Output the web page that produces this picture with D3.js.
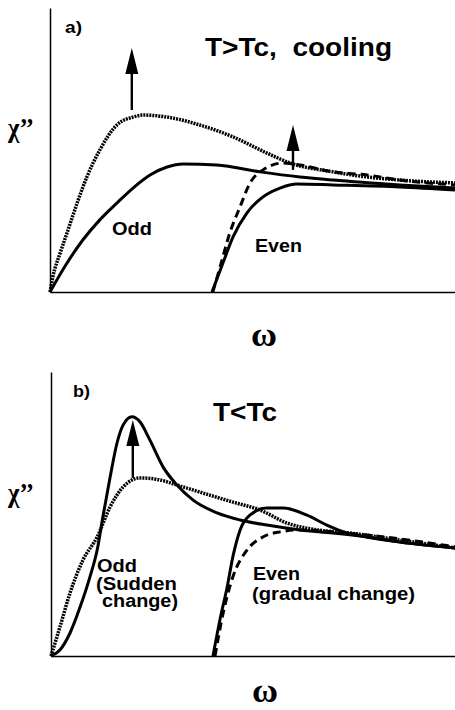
<!DOCTYPE html>
<html>
<head>
<meta charset="utf-8">
<script src="https://d3js.org/d3.v7.min.js"></script>
<style>
  body { margin: 0; background: #fff; }
  text { font-family: "Liberation Sans", Arial, sans-serif; font-weight: bold; fill: #000; white-space: pre; }
  .sym { font-family: "Liberation Serif", "DejaVu Serif", serif; }
</style>
</head>
<body>
<script>
// ---- data (omega, chi'' in arbitrary units 0..10) ----
// panel a) T>Tc, cooling
const aOddDotW  = [0, 0.07, 0.25, 0.42, 0.67, 0.91, 1.23, 1.65, 2.05, 2.30, 2.89, 3.70, 4.52, 5.36, 5.93, 6.99, 7.83, 8.64, 10];
const aOddDotC  = [0, 0.53, 1.37, 2.08, 3.13, 4.05, 5.00, 5.88, 6.16, 6.23, 6.16, 5.88, 5.46, 4.89, 4.54, 4.23, 4.05, 3.94, 3.84];
const aOddW     = [0, 0.42, 0.81, 1.23, 1.65, 2.05, 2.47, 2.89, 3.28, 4.12, 5.19, 6.17, 6.99, 8.64, 10];
const aOddC     = [0, 1.02, 1.83, 2.54, 3.13, 3.66, 4.12, 4.40, 4.51, 4.47, 4.23, 4.05, 3.94, 3.77, 3.66];
const aEvenDashW = [4.02, 4.20, 4.44, 4.69, 4.94, 5.26, 5.75, 6.17, 6.99, 7.83, 8.64, 10];
const aEvenDashC = [0, 0.88, 2.08, 2.99, 3.84, 4.30, 4.54, 4.47, 4.23, 4.12, 3.94, 3.77];
const aEvenW    = [4.00, 4.27, 4.52, 4.86, 5.26, 5.68, 6.10, 6.99, 8.64, 10];
const aEvenC    = [0, 1.02, 1.94, 2.78, 3.35, 3.66, 3.80, 3.77, 3.70, 3.59];
const aArrows   = [{w: 2.02, from: 6.41, to: 8.59}, {w: 6.0, from: 4.30, to: 5.88}];

// panel b) T<Tc
const bOddW     = [0, 0.22, 0.47, 0.72, 0.96, 1.14, 1.28, 1.46, 1.63, 1.78, 2.00, 2.20, 2.44, 2.77, 3.11, 3.51, 4.10, 4.67, 5.33, 6.15, 6.96, 7.80, 8.62, 10];
const bOddC     = [0, 0.21, 0.81, 1.73, 2.78, 3.73, 4.89, 6.30, 7.50, 8.13, 8.42, 8.24, 7.61, 6.65, 6.02, 5.49, 5.04, 4.79, 4.61, 4.44, 4.33, 4.19, 4.01, 3.80];
const bOddDotW  = [0, 0.22, 0.47, 0.79, 1.14, 1.46, 1.78, 2.20, 2.69, 3.11, 3.68, 4.49, 5.16, 5.83, 6.57, 7.38, 8.62, 10];
const bOddDotC  = [0, 1.02, 2.22, 3.38, 4.19, 5.25, 5.95, 6.27, 6.20, 6.02, 5.77, 5.42, 5.14, 4.68, 4.44, 4.33, 4.08, 3.80];
const bEvenW    = [4.00, 4.17, 4.35, 4.49, 4.67, 4.91, 5.33, 5.73, 6.32, 6.81, 7.31, 7.80, 8.62, 10];
const bEvenC    = [0, 1.27, 2.43, 3.49, 4.44, 4.96, 5.21, 5.21, 4.96, 4.61, 4.33, 4.19, 4.01, 3.80];
const bEvenDashW = [4.05, 4.25, 4.49, 4.84, 5.23, 5.65, 6.15, 6.96, 7.80, 10];
const bEvenDashC = [0, 1.51, 2.78, 3.73, 4.19, 4.37, 4.44, 4.37, 4.26, 3.84];
const bArrows   = [{w: 2.02, from: 6.27, to: 8.31}];

const width = 455, height = 710;
const plotW = 405, plotH = 284;

const svg = d3.select('body').append('svg')
    .attr('width', width)
    .attr('height', height);

const x = d3.scaleLinear().domain([0, 10]).range([0, plotW]);
const y = d3.scaleLinear().domain([0, 10]).range([plotH, 0]);

const line = d3.line()
    .x(d => x(d[0]))
    .y(d => y(d[1]))
    .curve(d3.curveMonotoneX);

const styles = {
  solid:  {w: 3, dash: null},
  dotted: {w: 3.5, dash: '2,1'},
  dashed: {w: 3, dash: '8,5'}
};

const headW = 13, headH = 26;

function panel(ox, oy, curves, arrows) {
  const g = svg.append('g').attr('transform', `translate(${ox},${oy})`);

  // axes, no ticks
  g.append('g')
      .call(d3.axisLeft(y).tickValues([]).tickSizeOuter(0))
      .select('.domain').attr('stroke-width', 1.5);
  g.append('g')
      .attr('transform', `translate(0,${plotH})`)
      .call(d3.axisBottom(x).tickValues([]).tickSizeOuter(0))
      .select('.domain').attr('stroke-width', 1.5);

  curves.forEach(c => {
    const s = styles[c.style];
    g.append('path')
        .datum(d3.zip(c.w, c.c))
        .attr('d', line)
        .attr('fill', 'none')
        .attr('stroke', '#000')
        .attr('stroke-width', s.w)
        .attr('stroke-dasharray', s.dash);
  });

  // upward arrows: shaft + filled triangular head
  arrows.forEach(a => {
    const ax = x(a.w), tip = y(a.to);
    g.append('line')
        .attr('x1', ax).attr('x2', ax)
        .attr('y1', y(a.from)).attr('y2', tip + headH - 2)
        .attr('stroke', '#000')
        .attr('stroke-width', 2.4);
    g.append('path')
        .attr('d', `M${ax},${tip} L${ax + headW / 2},${tip + headH} L${ax - headW / 2},${tip + headH} Z`)
        .attr('fill', '#000');
  });
  return g;
}

panel(50, 8, [
  {w: aOddDotW, c: aOddDotC, style: 'dotted'},
  {w: aOddW, c: aOddC, style: 'solid'},
  {w: aEvenDashW, c: aEvenDashC, style: 'dashed'},
  {w: aEvenW, c: aEvenC, style: 'solid'}
], aArrows);

panel(51, 372, [
  {w: bOddDotW, c: bOddDotC, style: 'dotted'},
  {w: bOddW, c: bOddC, style: 'solid'},
  {w: bEvenDashW, c: bEvenDashC, style: 'dashed'},
  {w: bEvenW, c: bEvenC, style: 'solid'}
], bArrows);

// ---- labels ----
function label(t, px, py, size, len, cls) {
  const el = svg.append('text')
      .attr('x', px).attr('y', py)
      .attr('font-size', size)
      .attr('class', cls || null)
      .text(t);
  if (len) el.attr('textLength', len).attr('lengthAdjust', 'spacingAndGlyphs');
}

label('a)', 65, 33, 17, 17);
label('T>Tc,  cooling', 205, 56, 25, 187);
label('Odd', 112, 235, 19, 40);
label('Even', 255, 252, 19, 47);
label('\u03c7\u2019\u2019', 8, 137, 28, 26, 'sym');
label('\u03c9', 251, 346, 34, 26, 'sym');

label('b)', 73, 397, 17, 17);
label('T<Tc', 213, 421, 25, 64);
label('Odd', 97, 572, 18, 40);
label('(Sudden', 96, 590, 18, 81);
label('change)', 102, 607, 18, 76);
label('Even', 253, 580, 19, 47);
label('(gradual change)', 252, 600, 19, 163);
label('\u03c7\u2019\u2019', 8, 502, 28, 26, 'sym');
label('\u03c9', 252, 702, 34, 26, 'sym');
</script>
</body>
</html>
